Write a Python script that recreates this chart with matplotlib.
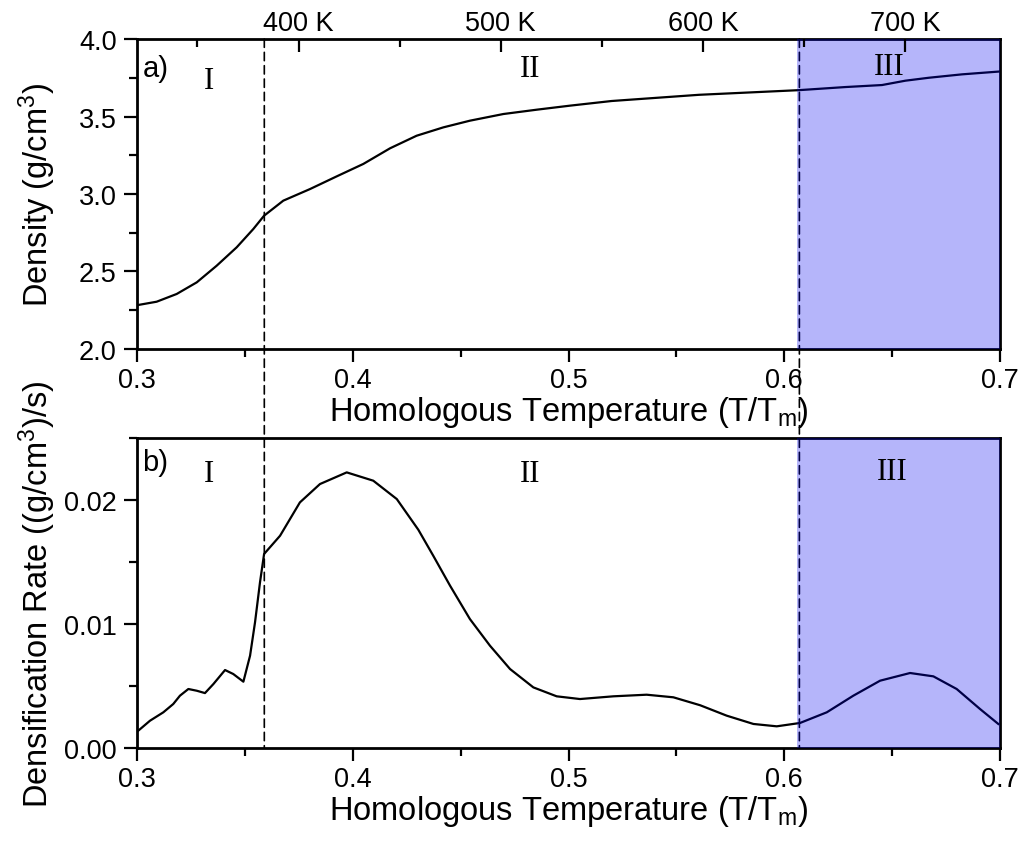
import matplotlib
matplotlib.use("Agg")
import matplotlib.pyplot as plt
from matplotlib.patches import ConnectionPatch
from matplotlib.ticker import MultipleLocator, FormatStrFormatter

plt.rcParams['font.family'] = ['Liberation Sans', 'DejaVu Sans']
plt.rcParams['mathtext.default'] = 'regular'

# melting temperature used for the top (Kelvin) axis
Tm = 1067.0
kelvin_major = [400, 500, 600, 700]
kelvin_minor = [350, 450, 550, 650]

# stage boundaries
stage_bounds = [0.359, 0.607]
stage3_start = 0.606

# density curve (panel a)
dens_T = [0.3006, 0.3091, 0.3184, 0.3277, 0.3369, 0.3462, 0.3539, 0.3589,
          0.3678, 0.3802, 0.3926, 0.4049, 0.4173, 0.4296, 0.4420, 0.4543,
          0.4698, 0.4853, 0.5007, 0.520, 0.5605, 0.6068, 0.6283, 0.6453,
          0.6561, 0.667, 0.6824, 0.6995]
dens = [2.284, 2.305, 2.355, 2.430, 2.537, 2.656, 2.774, 2.860,
        2.957, 3.032, 3.114, 3.194, 3.295, 3.376, 3.430, 3.473,
        3.516, 3.544, 3.570, 3.600, 3.640, 3.670, 3.690, 3.703,
        3.731, 3.750, 3.772, 3.790]

# densification rate curve (panel b)
rate_T = [0.3006, 0.306, 0.3122, 0.3168, 0.3199, 0.3238, 0.3277, 0.3315,
          0.3354, 0.3408, 0.3446, 0.3493, 0.3524, 0.3547, 0.3570, 0.3589,
          0.3663, 0.3755, 0.3848, 0.3972, 0.4095, 0.4204, 0.4304, 0.4373,
          0.4451, 0.4543, 0.4636, 0.4729, 0.4837, 0.4945, 0.5053, 0.5208,
          0.5362, 0.5486, 0.5610, 0.5733, 0.5857, 0.5965, 0.6073, 0.6197,
          0.6320, 0.6444, 0.6583, 0.6691, 0.6799, 0.6907, 0.6992]
rate = [0.00140, 0.00220, 0.00288, 0.00355, 0.00422, 0.00476, 0.00462, 0.00443,
        0.00516, 0.00629, 0.00597, 0.00535, 0.00745, 0.01014, 0.01336, 0.01565,
        0.01712, 0.01981, 0.02129, 0.02223, 0.02156, 0.02008, 0.01760, 0.01551,
        0.01309, 0.01040, 0.00825, 0.00637, 0.00489, 0.00417, 0.00395, 0.00417,
        0.00430, 0.00409, 0.00345, 0.00261, 0.00194, 0.00175, 0.00202, 0.00288,
        0.00422, 0.00543, 0.00605, 0.00578, 0.00476, 0.00315, 0.00194]

tick_fs = 19.5
label_fs = 23.5
roman_fs = 22
panel_fs = 21
serif = 'Liberation Serif'

fig = plt.figure(figsize=(10.24, 8.53), dpi=100)
ax1 = fig.add_axes([0.1338, 0.5897, 0.8428, 0.3634], facecolor='none')
ax2 = fig.add_axes([0.1338, 0.1219, 0.8428, 0.3634], facecolor='none')

for ax in (ax1, ax2):
    ax.set_xlim(0.3, 0.7)
    ax.xaxis.set_major_locator(MultipleLocator(0.1))
    ax.xaxis.set_minor_locator(MultipleLocator(0.05))
    ax.tick_params(which='both', direction='out', width=1.6, labelsize=tick_fs,
                   top=False, right=False)
    ax.tick_params(which='major', length=9.5)
    ax.tick_params(which='minor', length=5.5)
    ax.tick_params(axis='y', pad=5)
    for s in ax.spines.values():
        s.set_linewidth(2.0)
    ax.set_xlabel('Homologous Temperature (T/T$_m$)', fontsize=label_fs, labelpad=1)
    ax.axvspan(stage3_start, 0.7, color='#0000f0', alpha=0.29, lw=0, zorder=3)
    ax.yaxis.set_label_coords(-0.091, 0.5)

# panel a
ax1.plot(dens_T, dens, color='black', lw=1.6, zorder=2)
ax1.set_ylim(2.0, 4.0)
ax1.yaxis.set_major_locator(MultipleLocator(0.5))
ax1.yaxis.set_minor_locator(MultipleLocator(0.25))
ax1.yaxis.set_major_formatter(FormatStrFormatter('%.1f'))
ax1.set_ylabel('Density (g/cm$^3$)', fontsize=label_fs)

top = ax1.twiny()
top.set_xlim(0.3, 0.7)
top.set_xticks([k / Tm for k in kelvin_major])
top.set_xticklabels(['%d K' % k for k in kelvin_major])
top.set_xticks([k / Tm for k in kelvin_minor], minor=True)
top.tick_params(which='both', direction='in', width=1.6, labelsize=tick_fs, pad=2)
top.tick_params(which='major', length=9.5)
top.tick_params(which='minor', length=5.5)
for s in top.spines.values():
    s.set_visible(False)

ax1.text(0.3025, 3.81, 'a)', fontsize=panel_fs, va='center', ha='left')
ax1.text(0.3334, 3.735, 'I', family=serif, fontsize=roman_fs, ha='center', va='center')
ax1.text(0.482, 3.81, 'II', family=serif, fontsize=roman_fs, ha='center', va='center')
ax1.text(0.6485, 3.82, 'III', family=serif, fontsize=roman_fs, ha='center', va='center')

# panel b
ax2.plot(rate_T, rate, color='black', lw=1.6, zorder=2)
ax2.set_ylim(0.0, 0.025)
ax2.yaxis.set_major_locator(MultipleLocator(0.01))
ax2.yaxis.set_minor_locator(MultipleLocator(0.005))
ax2.yaxis.set_major_formatter(FormatStrFormatter('%.2f'))
ax2.set_ylabel('Densification Rate ((g/cm$^3$)/s)', fontsize=label_fs)

ax2.text(0.3025, 0.0231, 'b)', fontsize=panel_fs, va='center', ha='left')
ax2.text(0.3334, 0.0221, 'I', family=serif, fontsize=roman_fs, ha='center', va='center')
ax2.text(0.482, 0.0221, 'II', family=serif, fontsize=roman_fs, ha='center', va='center')
ax2.text(0.6500, 0.0223, 'III', family=serif, fontsize=roman_fs, ha='center', va='center')

# dashed stage boundaries spanning both panels
for xb in stage_bounds:
    con = ConnectionPatch(xyA=(xb, 4.0), coordsA=ax1.transData,
                          xyB=(xb, 0.0), coordsB=ax2.transData,
                          color='black', lw=1.2, linestyle=(0, (5, 3)), zorder=-1)
    fig.add_artist(con)

fig.savefig('out.png', dpi=100, facecolor='white')
